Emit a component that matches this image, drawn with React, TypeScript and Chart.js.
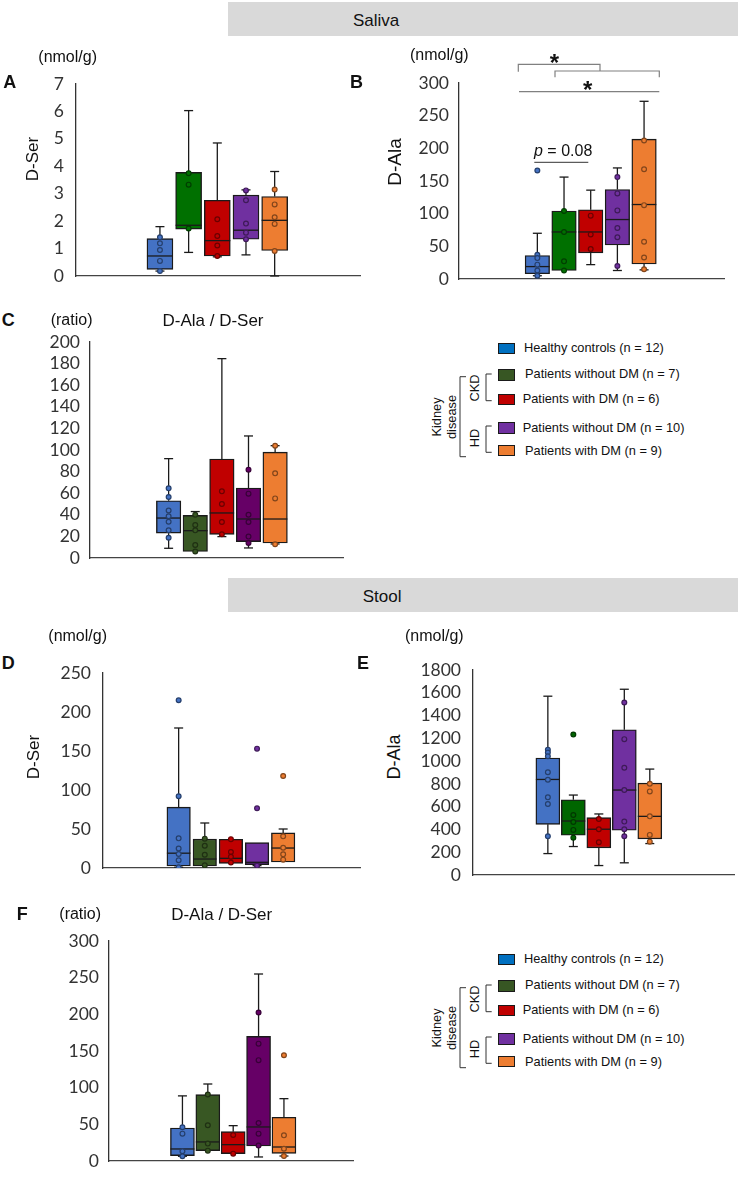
import React, { useEffect, useRef } from "react";
import { Chart, registerables } from "chart.js";
Chart.register(...registerables);

// ---------- data ----------
const groups = ["Healthy controls", "CKD without DM", "CKD with DM", "HD without DM", "HD with DM"];
const groupPos = [1, 2, 3, 4, 5];

// A: saliva D-Ser (nmol/g)
const aMin = [0.18, 0.86, 0.7, 0.77, 0.0];
const aQ1 = [0.24, 1.71, 0.73, 1.34, 0.93];
const aMed = [0.73, 1.85, 1.29, 1.67, 2.03];
const aQ3 = [1.36, 3.78, 2.76, 2.95, 2.9];
const aMax = [1.8, 6.03, 4.85, 3.14, 3.81];
const aPts = [[1.41, 1.19, 0.95, 0.55, 0.18], [3.75, 3.33, 1.73], [2.07, 1.46, 1.11, 0.73], [3.12, 2.76, 1.91, 1.58, 1.34], [3.15, 2.61, 2.14, 1.9, 0.91]];

// B: saliva D-Ala (nmol/g)
const bMin = [5, 13, 22, 13, 14];
const bQ1 = [8, 13, 40, 52, 23];
const bMed = [19, 72, 72, 91, 114];
const bQ3 = [36, 104, 106, 137, 214];
const bMax = [70, 156, 136, 170, 272];
const bPts = [[166, 37, 32, 22, 13, 5], [104, 72, 27, 13], [97, 68, 46], [156, 131, 105, 78, 64, 20], [212, 168, 113, 57, 33, 15]];

// C: saliva D-Ala / D-Ser (ratio)
const cMin = [9, 6, 19.8, 9.3, 13];
const cQ1 = [23, 6, 21.9, 15.1, 13.9];
const cMed = [37, 25.3, 41.7, 36.1, 36.1];
const cQ3 = [53, 39.5, 91.7, 64.8, 98];
const cMax = [92, 43, 184.6, 113, 104];
const cPts = [[64.5, 56.5, 44, 38.6, 33.6, 25.6, 18.8], [40, 30.6, 25.6, 12, 6], [61.7, 50, 33.3, 21.9], [81.8, 59.6, 40, 33.3, 19.8, 13.9], [104, 78.4, 55.2, 12.7]];

// D: stool D-Ser (nmol/g)
const dMin = [1, 2.6, 6, 3, 7.7];
const dQ1 = [2.6, 2.6, 6, 4.3, 7.7];
const dMed = [19, 11.5, 12.4, 7.3, 25.6];
const dQ3 = [78, 37, 36.8, 32.5, 45];
const dMax = [179.5, 57.7, 36.8, 32.5, 50];
const dPts = [[215, 92, 38, 25, 18, 10, 1], [37.6, 28.6, 17, 3.4], [37, 20.5, 14.5, 7], [153, 76.5, 3], [118, 40.6, 26, 17.5, 10.7]];

// E: stool D-Ala (nmol/g)
const eMin = [188, 250, 83, 107, 276];
const eQ1 = [445, 349, 238, 393, 317];
const eMed = [839, 474, 402, 746, 515];
const eQ3 = [1027, 661, 504, 1275, 807];
const eMax = [1570, 702, 536, 1631, 930];
const ePts = [[1099, 1075, 1042, 902, 836, 682, 623, 340], [1234, 527, 466, 396, 328], [492, 402, 288], [1514, 1193, 942, 746, 469, 402, 340], [801, 734, 515, 352, 293]];

// F: stool D-Ala / D-Ser (ratio)
const fMin = [6.4, 14.1, 10, 5.5, 6.8];
const fQ1 = [7.3, 14.1, 10, 20.5, 10.5];
const fMed = [16.4, 26, 22.3, 46.4, 19.1];
const fQ3 = [45, 90.6, 40, 170, 59.6];
const fMax = [88.8, 105, 48.2, 255, 85];
const fPts = [[46, 37.3, 13.2, 6.4], [90.6, 48.7, 23.7, 14.1], [35.5, 10], [202.5, 160, 137.5, 51.9, 37.3, 21], [144.3, 35, 16.8, 6.8]];

const legendLabels = [
  "Healthy controls (n = 12)",
  "Patients without DM (n = 7)",
  "Patients with DM (n = 6)",
  "Patients without DM (n = 10)",
  "Patients with DM (n = 9)",
];

// ---------- styles ----------
const colorsA = ["#4472C4", "#007000", "#C00000", "#7030A0", "#ED7D31"];
const colorsC = ["#4472C4", "#385723", "#C00000", "#660066", "#ED7D31"];
const colorsD = ["#4472C4", "#385723", "#C00000", "#7030A0", "#ED7D31"];
const colorsE = ["#4472C4", "#006600", "#C00000", "#7030A0", "#ED7D31"];
const colorsF = ["#4472C4", "#385723", "#C00000", "#660066", "#ED7D31"];
const legendColors = ["#0070C0", "#375623", "#C00000", "#7030A0", "#ED7D31"];

const SANS = "'Liberation Sans', Arial, sans-serif";

function darken(hex: string, f = 0.6) {
  const n = parseInt(hex.slice(1), 16);
  const r = Math.round(((n >> 16) & 255) * f);
  const g = Math.round(((n >> 8) & 255) * f);
  const b = Math.round((n & 255) * f);
  return `rgb(${r},${g},${b})`;
}

type Geom = { L: number; T: number; R: number; B: number; c1: number; s: number; boxW: number; pad: number; yMax: number; step: number };
type Stats = { min: number[]; q1: number[]; med: number[]; q3: number[]; max: number[]; pts: number[][] };

const YW = 64, PT = 32, PR = 4, PB = 32;
const TICK_SIZE = 17.5;

function BoxChart({ g, st, colors }: { g: Geom; st: Stats; colors: string[] }) {
  const ref = useRef<HTMLCanvasElement>(null);
  const w = Math.round(g.R - g.L) + YW + PR;
  const h = Math.round(g.B - g.T) + PT + PB;
  useEffect(() => {
    const xMin = 1 - (g.c1 - g.L) / g.s;
    const xMax = xMin + (g.R - g.L) / g.s;
    const whiskers = {
      id: "whiskers",
      afterDatasetDraw(chart: any, args: any) {
        if (args.index !== 0) return;
        const ctx = chart.ctx;
        const xs = chart.scales.x, ys = chart.scales.y;
        ctx.save();
        ctx.strokeStyle = "#1a1a1a";
        ctx.lineWidth = 1.3;
        const cap = 9;
        const line = (x1: number, y1: number, x2: number, y2: number) => {
          ctx.beginPath(); ctx.moveTo(x1, y1); ctx.lineTo(x2, y2); ctx.stroke();
        };
        groupPos.forEach((p, i) => {
          const cx = xs.getPixelForValue(p);
          if (st.max[i] > st.q3[i]) {
            line(cx, ys.getPixelForValue(st.q3[i]), cx, ys.getPixelForValue(st.max[i]));
            line(cx - cap / 2, ys.getPixelForValue(st.max[i]), cx + cap / 2, ys.getPixelForValue(st.max[i]));
          }
          if (st.min[i] < st.q1[i]) {
            line(cx, ys.getPixelForValue(st.q1[i]), cx, ys.getPixelForValue(st.min[i]));
            line(cx - cap / 2, ys.getPixelForValue(st.min[i]), cx + cap / 2, ys.getPixelForValue(st.min[i]));
          }
          const my = ys.getPixelForValue(st.med[i]);
          line(cx - g.boxW / 2, my, cx + g.boxW / 2, my);
        });
        ctx.restore();
      },
    };
    const datasets: any[] = [
      {
        type: "bar",
        label: "box",
        data: groupPos.map((x, i) => ({ x, y: [st.q1[i], st.q3[i]] })),
        backgroundColor: colors,
        borderColor: "#1a1a1a",
        borderWidth: 1.4,
        borderSkipped: false,
        barThickness: g.boxW,
        order: 2,
      },
      ...st.pts.map((arr, i) => ({
        type: "scatter",
        label: groups[i],
        data: arr.map((v) => ({ x: groupPos[i], y: v })),
        pointRadius: 2.4,
        pointBackgroundColor: colors[i],
        pointBorderColor: darken(colors[i], 0.55),
        pointBorderWidth: 1.2,
        order: 1,
      })),
    ];
    const chart = new Chart(ref.current as HTMLCanvasElement, {
      type: "bar",
      data: { datasets },
      options: {
        responsive: false,
        animation: false,
        layout: { padding: { left: 0, top: PT, right: PR, bottom: PB } },
        plugins: { legend: { display: false }, tooltip: { enabled: false } },
        scales: {
          x: {
            type: "linear",
            min: xMin,
            max: xMax,
            offset: false,
            grid: { display: false, drawTicks: false },
            ticks: { display: false },
            border: { display: true, color: "#444", width: 1.3 },
            afterFit: (s: any) => { s.height = 0; },
          },
          y: {
            type: "linear",
            min: 0,
            max: g.yMax,
            ticks: {
              stepSize: g.step,
              autoSkip: false,
              color: "#333",
              font: { family: "Lato", size: TICK_SIZE },
              padding: g.pad,
              callback: (v: any) => String(v),
            },
            grid: { display: false, drawTicks: false },
            border: { display: true, color: "#333", width: 1.3 },
            afterFit: (s: any) => { s.width = YW; },
          },
        },
      } as any,
      plugins: [whiskers],
    } as any);
    return () => chart.destroy();
  }, []);
  return (
    <canvas
      ref={ref}
      width={w}
      height={h}
      style={{ position: "absolute", left: g.L - YW, top: g.T - PT, width: w, height: h }}
    />
  );
}

function Txt({ x, y, children, size = 16, bold = false, italic = false, center = false, rotate = false, family = SANS }: any) {
  let tf = "translateY(-50%)";
  if (rotate) tf = "translate(-50%,-50%) rotate(-90deg)";
  else if (center) tf = "translate(-50%,-50%)";
  return (
    <div
      style={{
        position: "absolute", left: x, top: y, fontSize: size, lineHeight: 1, whiteSpace: "nowrap",
        fontWeight: bold ? "bold" : "normal", fontStyle: italic ? "italic" : "normal",
        color: "#111", fontFamily: family, transform: tf, transformOrigin: "center",
      }}
    >
      {children}
    </div>
  );
}

const swatchY = [348.3, 374.8, 399.7, 428, 450.5];
const textX = [524, 525, 522.7, 522.7, 525];
const textY = [347.7, 374.3, 399, 427.7, 450.7];

function Legend({ dy }: { dy: number }) {
  return (
    <>
      {legendLabels.map((lab, i) => (
        <React.Fragment key={i}>
          <div
            style={{
              position: "absolute", left: 498, top: swatchY[i] + dy - 5.75, width: 17, height: 11.5,
              background: legendColors[i], border: "1.5px solid #1a1a1a", boxSizing: "border-box",
            }}
          />
          <Txt x={textX[i]} y={textY[i] + dy} size={12.8}>{lab}</Txt>
        </React.Fragment>
      ))}
      <Txt x={436.7} y={417.3 + dy} size={12.8} rotate>Kidney</Txt>
      <Txt x={451.7} y={417.3 + dy} size={12.8} rotate>disease</Txt>
      <Txt x={475} y={388 + dy} size={12.8} rotate>CKD</Txt>
      <Txt x={475} y={438.3 + dy} size={12.8} rotate>HD</Txt>
    </>
  );
}

function legendPaths(dy: number) {
  return [
    `M466,${376.7 + dy} H460 V${456.7 + dy} H466`,
    `M491.7,${374 + dy} H486 V${400.7 + dy} H491.7`,
    `M491.7,${426 + dy} H486 V${452.3 + dy} H491.7`,
  ];
}

const gA: Geom = { L: 76, T: 84, R: 362, B: 276, c1: 160.3, s: 28.8, boxW: 26, pad: 12, yMax: 7, step: 1 };
const gB: Geom = { L: 459, T: 83, R: 726, B: 279, c1: 537.7, s: 26.8, boxW: 24.5, pad: 10, yMax: 300, step: 50 };
const gC: Geom = { L: 90, T: 342, R: 345, B: 558, c1: 169, s: 26.75, boxW: 24.5, pad: 10, yMax: 200, step: 20 };
const gD: Geom = { L: 103, T: 673, R: 362, B: 868, c1: 179, s: 26.25, boxW: 23.5, pad: 12, yMax: 250, step: 50 };
const gE: Geom = { L: 473, T: 670, R: 736, B: 875, c1: 548.2, s: 25.6, boxW: 24, pad: 12, yMax: 1800, step: 200 };
const gF: Geom = { L: 109, T: 941, R: 355, B: 1161, c1: 182.8, s: 25.5, boxW: 24, pad: 10, yMax: 300, step: 50 };

const HEADER_LEFT = 228;

export default function App() {
  return (
    <div style={{ position: "absolute", left: 0, top: 0, width: 738, height: 1182, background: "#fff", overflow: "hidden", fontFamily: SANS }}>
      {/* section headers */}
      <div style={{ position: "absolute", left: HEADER_LEFT, top: 2, width: 738 - HEADER_LEFT, height: 34, background: "#d9d9d9" }} />
      <Txt x={353} y={20} size={17}>Saliva</Txt>
      <div style={{ position: "absolute", left: HEADER_LEFT, top: 578, width: 738 - HEADER_LEFT, height: 34, background: "#d9d9d9" }} />
      <Txt x={362.7} y={596} size={17}>Stool</Txt>

      <BoxChart g={gA} st={{ min: aMin, q1: aQ1, med: aMed, q3: aQ3, max: aMax, pts: aPts }} colors={colorsA} />
      <BoxChart g={gB} st={{ min: bMin, q1: bQ1, med: bMed, q3: bQ3, max: bMax, pts: bPts }} colors={colorsA} />
      <BoxChart g={gC} st={{ min: cMin, q1: cQ1, med: cMed, q3: cQ3, max: cMax, pts: cPts }} colors={colorsC} />
      <BoxChart g={gD} st={{ min: dMin, q1: dQ1, med: dMed, q3: dQ3, max: dMax, pts: dPts }} colors={colorsD} />
      <BoxChart g={gE} st={{ min: eMin, q1: eQ1, med: eMed, q3: eQ3, max: eMax, pts: ePts }} colors={colorsE} />
      <BoxChart g={gF} st={{ min: fMin, q1: fQ1, med: fMed, q3: fQ3, max: fMax, pts: fPts }} colors={colorsF} />

      {/* panel A */}
      <Txt x={3.3} y={81.7} size={18} bold>A</Txt>
      <Txt x={38.3} y={56.7} size={16}>(nmol/g)</Txt>
      <Txt x={32} y={159} size={17} rotate>D-Ser</Txt>
      {/* panel B */}
      <Txt x={350} y={81.7} size={18} bold>B</Txt>
      <Txt x={410} y={55} size={16}>(nmol/g)</Txt>
      <Txt x={394.3} y={161.7} size={19} rotate>D-Ala</Txt>
      <Txt x={554.3} y={63} size={24} bold center>*</Txt>
      <Txt x={587.7} y={89.5} size={24} bold center>*</Txt>
      <div style={{ position: "absolute", left: 534, top: 151, transform: "translateY(-50%)", fontSize: 16, lineHeight: 1, whiteSpace: "nowrap", color: "#111", fontFamily: SANS }}>
        <i>p</i> = 0.08
      </div>
      {/* panel C */}
      <Txt x={1.7} y={320} size={18} bold>C</Txt>
      <Txt x={50.7} y={320} size={16}>(ratio)</Txt>
      <Txt x={213} y={320} size={17} center>D-Ala / D-Ser</Txt>
      {/* panel D */}
      <Txt x={1.7} y={663.3} size={18} bold>D</Txt>
      <Txt x={48.3} y={636} size={16}>(nmol/g)</Txt>
      <Txt x={33} y={756.7} size={17} rotate>D-Ser</Txt>
      {/* panel E */}
      <Txt x={357} y={663.3} size={18} bold>E</Txt>
      <Txt x={405} y={636} size={16}>(nmol/g)</Txt>
      <Txt x={394.3} y={756.7} size={18} rotate>D-Ala</Txt>
      {/* panel F */}
      <Txt x={16.7} y={914.3} size={18} bold>F</Txt>
      <Txt x={59.3} y={914} size={16}>(ratio)</Txt>
      <Txt x={221.7} y={914} size={17} center>D-Ala / D-Ser</Txt>

      <Legend dy={0} />
      <Legend dy={611} />

      <svg width={738} height={1182} style={{ position: "absolute", left: 0, top: 0, pointerEvents: "none" }}>
        <g fill="none" stroke="#808080" strokeWidth={1.2}>
          <path d="M518.3,71.7 V64.3 H600 V71" />
          <path d="M555,77.3 V71 H659.3 V77.3" />
          <path d="M519,91.7 H659.3" />
        </g>
        <path d="M534.3,162.3 H588.3" stroke="#333" strokeWidth={1} fill="none" />
        <g fill="none" stroke="#333" strokeWidth={1}>
          {[...legendPaths(0), ...legendPaths(611)].map((d, i) => (
            <path key={i} d={d} />
          ))}
        </g>
      </svg>
    </div>
  );
}
